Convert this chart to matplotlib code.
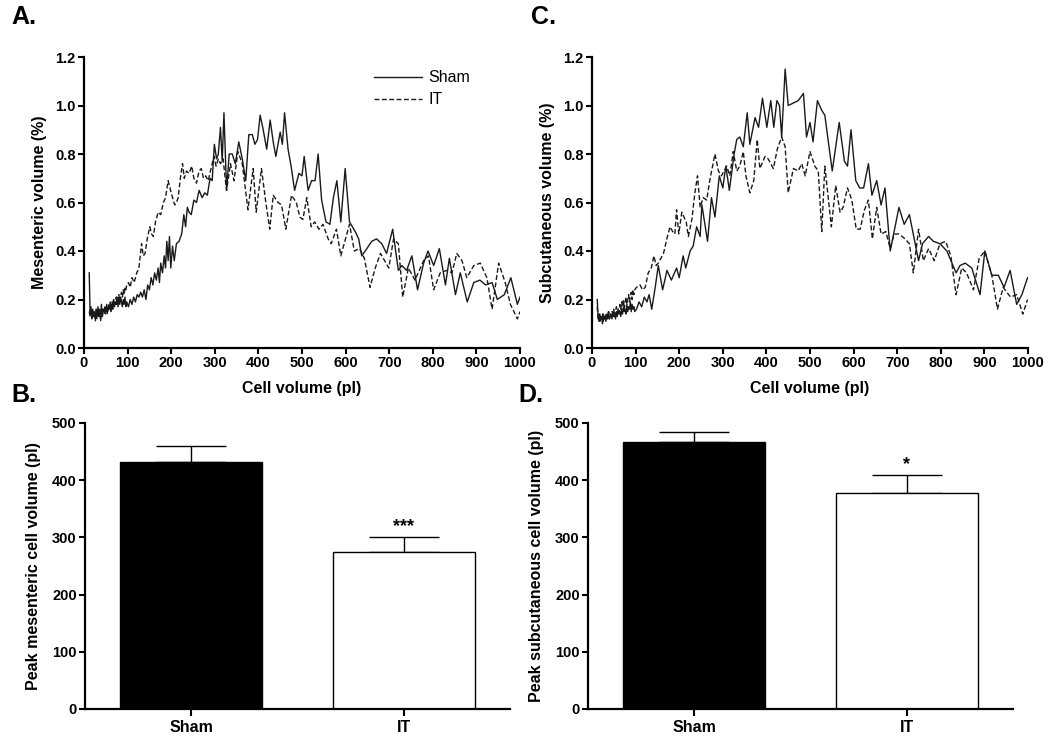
import matplotlib
matplotlib.use("Agg")
import matplotlib.pyplot as plt

plt.rcParams['font.family'] = ['Liberation Sans', 'DejaVu Sans']
plt.rcParams['font.weight'] = 'bold'

# shared dense grid at the small-volume end
x_low = [12, 14, 16, 18, 20, 22, 24, 26, 28, 30, 32, 34, 36, 38, 40, 42, 44, 46, 48, 50, 52, 54,
         56, 58, 60, 62, 64, 66, 68, 70, 72, 74, 76, 78, 80, 82, 84, 86, 88, 90, 92, 94, 96, 98]

# A. mesenteric
a_sham_low = [0.31, 0.14, 0.17, 0.12, 0.16, 0.13, 0.15, 0.12, 0.16, 0.14, 0.17, 0.13, 0.15, 0.14, 0.18,
              0.13, 0.16, 0.15, 0.17, 0.14, 0.18, 0.15, 0.17, 0.16, 0.19, 0.15, 0.18, 0.16, 0.2, 0.17,
              0.19, 0.18, 0.21, 0.17, 0.2, 0.18, 0.21, 0.19, 0.17, 0.2, 0.18, 0.21, 0.17, 0.19]
a_sham_x = [102, 106, 110, 114, 118, 122, 126, 130, 134, 138, 142, 146, 150, 154, 158, 162, 166, 170, 173, 176,
            180, 184, 187, 190, 193, 196, 199, 203, 207, 212, 218, 224, 229, 233, 237, 241, 246, 252, 258, 264,
            271, 277, 283, 289, 294, 299, 304, 308, 313, 317, 321, 327, 333, 340, 347, 355, 363, 371, 378, 386,
            392, 398, 404, 411, 419, 427, 434, 440, 450, 455, 460, 468, 475, 483, 493, 500, 505, 514, 522, 530,
            537, 545, 555, 564, 572, 580, 589, 599, 609, 622, 630, 637, 645, 660, 671, 683, 694, 708, 721, 729,
            740, 752, 765, 779, 789, 802, 815, 829, 838, 852, 863, 879, 894, 908, 921, 936, 948, 964, 979, 994,
            1000]
a_sham_y = [0.17, 0.2, 0.18, 0.21, 0.19, 0.22, 0.21, 0.23, 0.21, 0.24, 0.2, 0.26, 0.24, 0.29, 0.26, 0.31, 0.28, 0.33, 0.27, 0.35,
            0.31, 0.38, 0.33, 0.44, 0.36, 0.46, 0.33, 0.42, 0.36, 0.43, 0.44, 0.47, 0.55, 0.5, 0.58, 0.56, 0.55, 0.61, 0.6, 0.65,
            0.62, 0.64, 0.63, 0.7, 0.69, 0.84, 0.78, 0.8, 0.91, 0.77, 0.97, 0.65, 0.8, 0.8, 0.76, 0.85, 0.78, 0.69, 0.88, 0.88,
            0.84, 0.86, 0.96, 0.9, 0.82, 0.94, 0.85, 0.79, 0.89, 0.84, 0.97, 0.82, 0.75, 0.65, 0.72, 0.71, 0.79, 0.65, 0.69, 0.69,
            0.8, 0.61, 0.52, 0.51, 0.62, 0.69, 0.52, 0.74, 0.52, 0.48, 0.45, 0.38, 0.4, 0.44, 0.45, 0.43, 0.39, 0.49, 0.32, 0.34,
            0.32, 0.38, 0.24, 0.35, 0.4, 0.34, 0.41, 0.26, 0.37, 0.22, 0.31, 0.19, 0.27, 0.28, 0.26, 0.27, 0.2, 0.22, 0.29, 0.18,
            0.21]
a_it_low = [0.15, 0.13, 0.16, 0.12, 0.14, 0.13, 0.15, 0.11, 0.14, 0.12, 0.15, 0.13, 0.16, 0.11, 0.14,
            0.13, 0.16, 0.14, 0.17, 0.15, 0.16, 0.14, 0.18, 0.16, 0.17, 0.15, 0.19, 0.17, 0.2, 0.18,
            0.19, 0.21, 0.19, 0.2, 0.22, 0.19, 0.21, 0.23, 0.21, 0.24, 0.22, 0.25, 0.24, 0.26]
a_it_x = [102, 106, 110, 115, 121, 126, 132, 136, 140, 145, 151, 155, 159, 164, 170, 176, 182, 187, 193, 200,
          208, 212, 216, 221, 226, 230, 235, 241, 247, 252, 258, 264, 269, 274, 279, 285, 290, 298, 303, 308,
          313, 319, 327, 336, 344, 353, 363, 376, 388, 395, 407, 417, 426, 434, 445, 453, 463, 476, 487, 495,
          502, 511, 521, 529, 539, 548, 560, 567, 579, 589, 609, 620, 632, 643, 656, 668, 680, 699, 710, 721,
          731, 744, 759, 779, 790, 802, 817, 832, 844, 855, 867, 878, 894, 909, 924, 936, 951, 966, 978, 994,
          1000]
a_it_y = [0.27, 0.25, 0.29, 0.27, 0.31, 0.33, 0.43, 0.38, 0.39, 0.45, 0.5, 0.47, 0.46, 0.52, 0.56, 0.55, 0.6, 0.62, 0.69, 0.64,
          0.59, 0.6, 0.62, 0.7, 0.76, 0.7, 0.73, 0.72, 0.75, 0.7, 0.68, 0.73, 0.74, 0.7, 0.71, 0.69, 0.73, 0.79, 0.75, 0.78,
          0.76, 0.78, 0.65, 0.76, 0.69, 0.81, 0.76, 0.57, 0.74, 0.56, 0.74, 0.6, 0.49, 0.63, 0.6, 0.59, 0.49, 0.63, 0.6, 0.54,
          0.53, 0.62, 0.5, 0.52, 0.49, 0.51, 0.45, 0.43, 0.49, 0.38, 0.51, 0.4, 0.41, 0.37, 0.25, 0.33, 0.39, 0.33, 0.45, 0.43,
          0.21, 0.33, 0.28, 0.36, 0.38, 0.24, 0.31, 0.32, 0.31, 0.39, 0.36, 0.29, 0.34, 0.35, 0.29, 0.16, 0.35, 0.27, 0.18, 0.12,
          0.15]

# C. subcutaneous
c_sham_low = [0.2, 0.13, 0.11, 0.14, 0.12, 0.13, 0.1, 0.14, 0.12, 0.13, 0.11, 0.14, 0.12, 0.15, 0.12,
              0.13, 0.14, 0.12, 0.15, 0.13, 0.14, 0.12, 0.15, 0.13, 0.16, 0.14, 0.15, 0.13, 0.16, 0.14,
              0.17, 0.15, 0.16, 0.14, 0.18, 0.15, 0.17, 0.16, 0.19, 0.15, 0.18, 0.16, 0.17, 0.15]
c_sham_x = [102, 108, 114, 120, 126, 131, 137, 145, 152, 162, 172, 182, 194, 200, 209, 215, 225, 232, 240, 248,
            252, 258, 265, 274, 282, 292, 300, 307, 315, 326, 332, 339, 347, 356, 362, 374, 382, 391, 401, 410,
            417, 424, 430, 435, 443, 450, 473, 485, 492, 500, 507, 517, 527, 534, 551, 567, 579, 586, 594, 605,
            614, 623, 634, 642, 653, 663, 672, 684, 704, 716, 728, 749, 758, 772, 783, 798, 814, 835, 844, 856,
            871, 890, 901, 917, 932, 945, 959, 974, 986, 999]
c_sham_y = [0.16, 0.19, 0.17, 0.21, 0.19, 0.22, 0.16, 0.25, 0.34, 0.24, 0.32, 0.28, 0.33, 0.29, 0.38, 0.33, 0.4, 0.42, 0.5, 0.46,
            0.59, 0.52, 0.44, 0.62, 0.54, 0.71, 0.66, 0.75, 0.65, 0.8, 0.86, 0.87, 0.83, 0.97, 0.84, 0.95, 0.91, 1.03, 0.91, 1.02,
            0.91, 1.02, 1.0, 0.87, 1.15, 1.0, 1.02, 1.05, 0.87, 0.93, 0.85, 1.02, 0.98, 0.96, 0.73, 0.93, 0.77, 0.75, 0.9, 0.69,
            0.66, 0.66, 0.76, 0.63, 0.69, 0.59, 0.66, 0.4, 0.58, 0.51, 0.55, 0.36, 0.43, 0.46, 0.44, 0.43, 0.4, 0.31, 0.34, 0.35,
            0.33, 0.22, 0.4, 0.3, 0.3, 0.25, 0.32, 0.18, 0.22, 0.29]
c_it_low = [0.17, 0.12, 0.14, 0.11, 0.13, 0.12, 0.14, 0.11, 0.13, 0.12, 0.14, 0.12, 0.13, 0.15, 0.12,
            0.14, 0.13, 0.15, 0.14, 0.16, 0.13, 0.15, 0.17, 0.14, 0.16, 0.15, 0.18, 0.16, 0.19, 0.17,
            0.2, 0.16, 0.19, 0.21, 0.18, 0.2, 0.22, 0.19, 0.21, 0.23, 0.2, 0.24, 0.22, 0.24]
c_it_x = [102, 110, 116, 122, 129, 136, 142, 147, 152, 158, 164, 173, 179, 185, 190, 194, 199, 206, 216, 221,
          229, 236, 242, 248, 255, 263, 271, 282, 290, 297, 309, 316, 324, 332, 339, 347, 353, 362, 371, 379,
          385, 397, 404, 416, 425, 435, 443, 450, 462, 473, 481, 489, 500, 511, 519, 527, 534, 549, 559, 569,
          576, 586, 596, 606, 615, 625, 634, 643, 653, 663, 674, 684, 693, 704, 718, 728, 737, 749, 760, 772,
          785, 798, 811, 823, 835, 848, 859, 875, 888, 901, 917, 930, 943, 960, 974, 988, 999]
c_it_y = [0.25, 0.26, 0.24, 0.25, 0.31, 0.33, 0.38, 0.34, 0.35, 0.37, 0.39, 0.46, 0.5, 0.48, 0.47, 0.57, 0.47, 0.56, 0.52, 0.46,
          0.53, 0.64, 0.71, 0.58, 0.62, 0.61, 0.7, 0.8, 0.73, 0.71, 0.75, 0.71, 0.81, 0.73, 0.75, 0.81, 0.71, 0.64, 0.69, 0.86,
          0.74, 0.79, 0.78, 0.74, 0.82, 0.87, 0.83, 0.64, 0.74, 0.73, 0.76, 0.71, 0.81, 0.75, 0.73, 0.48, 0.75, 0.5, 0.67, 0.56,
          0.58, 0.66, 0.61, 0.49, 0.49, 0.57, 0.61, 0.45, 0.58, 0.47, 0.48, 0.41, 0.47, 0.47, 0.45, 0.43, 0.31, 0.49, 0.36, 0.41,
          0.36, 0.43, 0.44, 0.38, 0.22, 0.33, 0.31, 0.24, 0.37, 0.4, 0.3, 0.16, 0.25, 0.21, 0.22, 0.14, 0.2]

# B. / D. peak cell volume (mean, sem)
groups = ['Sham', 'IT']
b_mean = [432, 275]
b_sem = [27, 25]
d_mean = [467, 377]
d_sem = [18, 32]

W, H = 1050, 754
fig = plt.figure(figsize=(W / 100, H / 100), dpi=100)


def box(l, t, r, b):
    return [l / W, 1 - b / H, (r - l) / W, (b - t) / H]


def style(ax):
    for s in ['top', 'right']:
        ax.spines[s].set_visible(False)
    for s in ['left', 'bottom']:
        ax.spines[s].set_linewidth(1.6)
    ax.tick_params(direction='out', length=4, width=1.5, labelsize=10.5, pad=2)
    for lab in ax.get_xticklabels() + ax.get_yticklabels():
        lab.set_fontweight('bold')


def line_panel(ax, sx, sy, ix, iy, ylabel):
    ax.plot(x_low + sx, sy, color='#1a1a1a', lw=1.0, label='Sham')
    ax.plot(x_low + ix, iy, color='#1a1a1a', lw=1.0, ls=(0, (3.5, 1.8)), label='IT')
    ax.set_xlim(0, 1000)
    ax.set_ylim(0, 1.2)
    ax.set_xticks(range(0, 1001, 100))
    ax.set_yticks([0.0, 0.2, 0.4, 0.6, 0.8, 1.0, 1.2])
    ax.set_yticklabels(['0.0', '0.2', '0.4', '0.6', '0.8', '1.0', '1.2'])
    ax.set_xlabel('Cell volume (pl)', fontsize=11.5, fontweight='bold', labelpad=8)
    ax.set_ylabel(ylabel, fontsize=11.5, fontweight='bold', labelpad=6)
    style(ax)


def bar_panel(ax, mean, sem, star, ylabel):
    xs = [0, 1]
    ax.bar(xs, mean, width=0.67, color=['black', 'white'], edgecolor='black', linewidth=1.0, zorder=2)
    ax.errorbar(xs, mean, yerr=[[0, 0], sem], fmt='none', ecolor='black', elinewidth=1.0,
                capsize=25, capthick=1.0, zorder=1)
    ax.text(1, mean[1] + sem[1] + 4, star, ha='center', va='bottom', fontsize=13, fontweight='bold')
    ax.set_xlim(-0.5, 1.5)
    ax.set_ylim(0, 500)
    ax.set_xticks(xs)
    ax.set_xticklabels(groups)
    ax.set_yticks(range(0, 501, 100))
    ax.set_ylabel(ylabel, fontsize=11.5, fontweight='bold', labelpad=8)
    style(ax)
    ax.tick_params(axis='x', labelsize=11.5, length=5, pad=3)


axA = fig.add_axes(box(84, 57, 520, 348))
line_panel(axA, a_sham_x, a_sham_low + a_sham_y, a_it_x, a_it_low + a_it_y, 'Mesenteric volume (%)')
leg = axA.legend(loc='upper left', bbox_to_anchor=(0.665, 0.955), frameon=False, fontsize=11.5,
                 handlelength=3.0, handletextpad=0.4, labelspacing=0.45, borderpad=0, borderaxespad=0)
for t in leg.get_texts():
    t.set_fontweight('normal')

axC = fig.add_axes(box(592, 57, 1028, 348))
line_panel(axC, c_sham_x, c_sham_low + c_sham_y, c_it_x, c_it_low + c_it_y, 'Subcutaneous volume (%)')

axB = fig.add_axes(box(85, 423, 510, 709))
bar_panel(axB, b_mean, b_sem, '***', 'Peak mesenteric cell volume (pl)')

axD = fig.add_axes(box(588, 423, 1013, 709))
bar_panel(axD, d_mean, d_sem, '*', 'Peak subcutaneous cell volume (pl)')

for lab, px, py in [('A.', 11, 5), ('C.', 531, 5), ('B.', 11, 383), ('D.', 518, 383)]:
    fig.text(px / W, 1 - py / H, lab, fontsize=18, fontweight='bold', ha='left', va='top')

fig.savefig('out.png', dpi=100, facecolor='white')
